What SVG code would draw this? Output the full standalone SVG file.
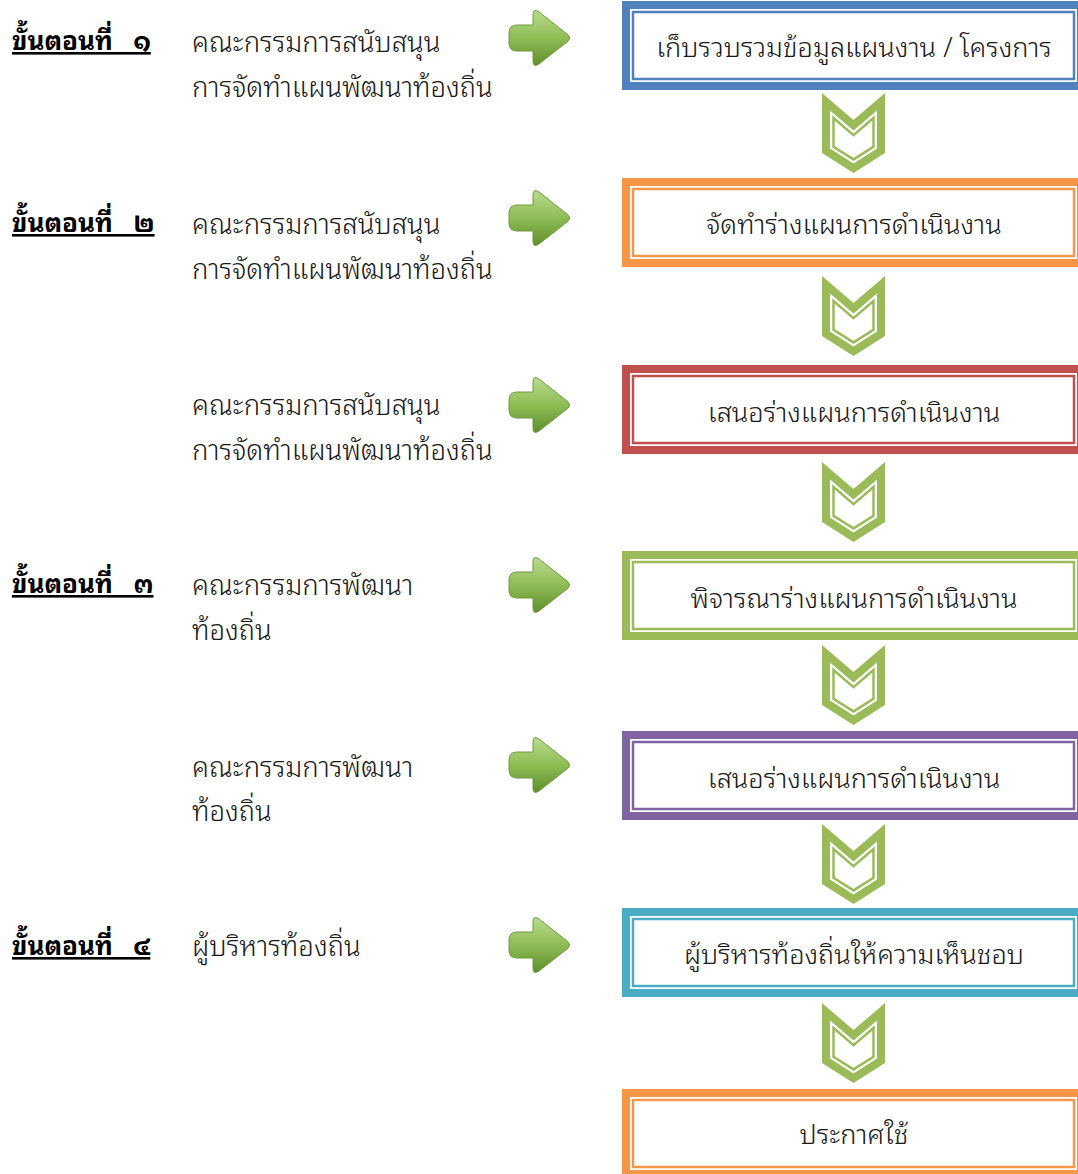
<svg xmlns="http://www.w3.org/2000/svg" xmlns:xlink="http://www.w3.org/1999/xlink" width="1078" height="1174" viewBox="0 0 1078 1174">
<style>
.t{font-family:"Noto Sans Thai Looped","Leelawadee UI",Tahoma,Loma,"Noto Sans Thai","Noto Sans",sans-serif;font-size:27.5px;font-weight:300;fill:#1a1a1a}
.bt{font-family:"Noto Sans Thai Looped","Leelawadee UI",Tahoma,Loma,"Noto Sans Thai","Noto Sans",sans-serif;font-size:27.2px;font-weight:300;fill:#1a1a1a;text-anchor:middle}
.lb{font-family:"Noto Sans Thai Looped","Leelawadee UI",Tahoma,Loma,"Noto Sans Thai","Noto Sans",sans-serif;font-size:26px;font-weight:bold;fill:#000;text-decoration:underline;white-space:pre}
.inner{fill:#fff}
.thin{fill:#fff;stroke-width:2.5}
</style>
<defs>
<linearGradient id="ag" x1="0" y1="0" x2="0" y2="1">
<stop offset="0" stop-color="#b9dc8e"/>
<stop offset="0.5" stop-color="#8fbc55"/>
<stop offset="1" stop-color="#5f8f2c"/>
</linearGradient>
<g id="chev">
<polygon points="0,0 31.5,27 63,0 63,60 31.5,80 0,60" fill="#9BBB59"/>
<polygon points="8,17.4 31.5,37.5 55,17.4 55,55.6 31.5,70.5 8,55.6" fill="#fff"/>
<polygon points="11.5,25 31.5,42.1 51.5,25 51.5,53.7 31.5,66.4 11.5,53.7" fill="#fff" stroke="#9BBB59" stroke-width="2.5"/>
</g>
<path id="arr" d="M517,-13 H533 V-23 Q533,-30 539,-26 L567,-4 Q572,0 567,4 L539,26 Q533,30 533,23 V13 H517 Q509,13 509,5 V-5 Q509,-13 517,-13 Z" fill="url(#ag)" stroke="#6f9a3a" stroke-width="1"/>
</defs>

<g id="connectors">
<use xlink:href="#arr" href="#arr" transform="translate(0,38)"/>
<use xlink:href="#arr" href="#arr" transform="translate(0,218)"/>
<use xlink:href="#arr" href="#arr" transform="translate(0,405)"/>
<use xlink:href="#arr" href="#arr" transform="translate(0,585)"/>
<use xlink:href="#arr" href="#arr" transform="translate(0,765)"/>
<use xlink:href="#arr" href="#arr" transform="translate(0,945)"/>
<use xlink:href="#chev" href="#chev" transform="translate(822,93)"/>
<use xlink:href="#chev" href="#chev" transform="translate(822,276)"/>
<use xlink:href="#chev" href="#chev" transform="translate(822,462)"/>
<use xlink:href="#chev" href="#chev" transform="translate(822,645)"/>
<use xlink:href="#chev" href="#chev" transform="translate(822,824)"/>
<use xlink:href="#chev" href="#chev" transform="translate(822,1003)"/>
</g>

<g id="labels">
<text class="lb" x="12" y="50">ขั้นตอนที่   ๑</text>
<text class="t" x="192" y="52">คณะกรรมการสนับสนุน</text>
<text class="t" x="192" y="97">การจัดทำแผนพัฒนาท้องถิ่น</text>
<text class="lb" x="12" y="232">ขั้นตอนที่   ๒</text>
<text class="t" x="192" y="234">คณะกรรมการสนับสนุน</text>
<text class="t" x="192" y="279">การจัดทำแผนพัฒนาท้องถิ่น</text>
<text class="t" x="192" y="415">คณะกรรมการสนับสนุน</text>
<text class="t" x="192" y="460">การจัดทำแผนพัฒนาท้องถิ่น</text>
<text class="lb" x="12" y="593">ขั้นตอนที่   ๓</text>
<text class="t" x="192" y="595">คณะกรรมการพัฒนา</text>
<text class="t" x="192" y="640">ท้องถิ่น</text>
<text class="t" x="192" y="777">คณะกรรมการพัฒนา</text>
<text class="t" x="192" y="821">ท้องถิ่น</text>
<text class="lb" x="12" y="955">ขั้นตอนที่   ๔</text>
<text class="t" x="192" y="956">ผู้บริหารท้องถิ่น</text>
</g>

<g id="box1">
<rect x="622" y="1" width="463" height="89" fill="#4F81BD"/>
<rect class="inner" x="630" y="9" width="447" height="73"/>
<rect class="thin" x="633" y="12" width="441" height="67" stroke="#4F81BD"/>
<text class="bt" x="854" y="57">เก็บรวบรวมข้อมูลแผนงาน / โครงการ</text>
</g>
<g id="box2">
<rect x="622" y="178" width="463" height="89" fill="#F79646"/>
<rect class="inner" x="630" y="186" width="447" height="73"/>
<rect class="thin" x="633" y="189" width="441" height="67" stroke="#F79646"/>
<text class="bt" x="854" y="234">จัดทำร่างแผนการดำเนินงาน</text>
</g>
<g id="box3">
<rect x="622" y="365" width="463" height="89" fill="#C0504D"/>
<rect class="inner" x="630" y="373" width="447" height="73"/>
<rect class="thin" x="633" y="376" width="441" height="67" stroke="#C0504D"/>
<text class="bt" x="854" y="422">เสนอร่างแผนการดำเนินงาน</text>
</g>
<g id="box4">
<rect x="622" y="551" width="463" height="89" fill="#9BBB59"/>
<rect class="inner" x="630" y="559" width="447" height="73"/>
<rect class="thin" x="633" y="562" width="441" height="67" stroke="#9BBB59"/>
<text class="bt" x="854" y="608">พิจารณาร่างแผนการดำเนินงาน</text>
</g>
<g id="box5">
<rect x="622" y="731" width="463" height="89" fill="#8064A2"/>
<rect class="inner" x="630" y="739" width="447" height="73"/>
<rect class="thin" x="633" y="742" width="441" height="67" stroke="#8064A2"/>
<text class="bt" x="854" y="788">เสนอร่างแผนการดำเนินงาน</text>
</g>
<g id="box6">
<rect x="622" y="908" width="463" height="89" fill="#4BACC6"/>
<rect class="inner" x="630" y="916" width="447" height="73"/>
<rect class="thin" x="633" y="919" width="441" height="67" stroke="#4BACC6"/>
<text class="bt" x="854" y="964">ผู้บริหารท้องถิ่นให้ความเห็นชอบ</text>
</g>
<g id="box7">
<rect x="622" y="1089" width="463" height="89" fill="#F79646"/>
<rect class="inner" x="630" y="1097" width="447" height="73"/>
<rect class="thin" x="633" y="1100" width="441" height="67" stroke="#F79646"/>
<text class="bt" x="854" y="1144">ประกาศใช้</text>
</g>
</svg>
